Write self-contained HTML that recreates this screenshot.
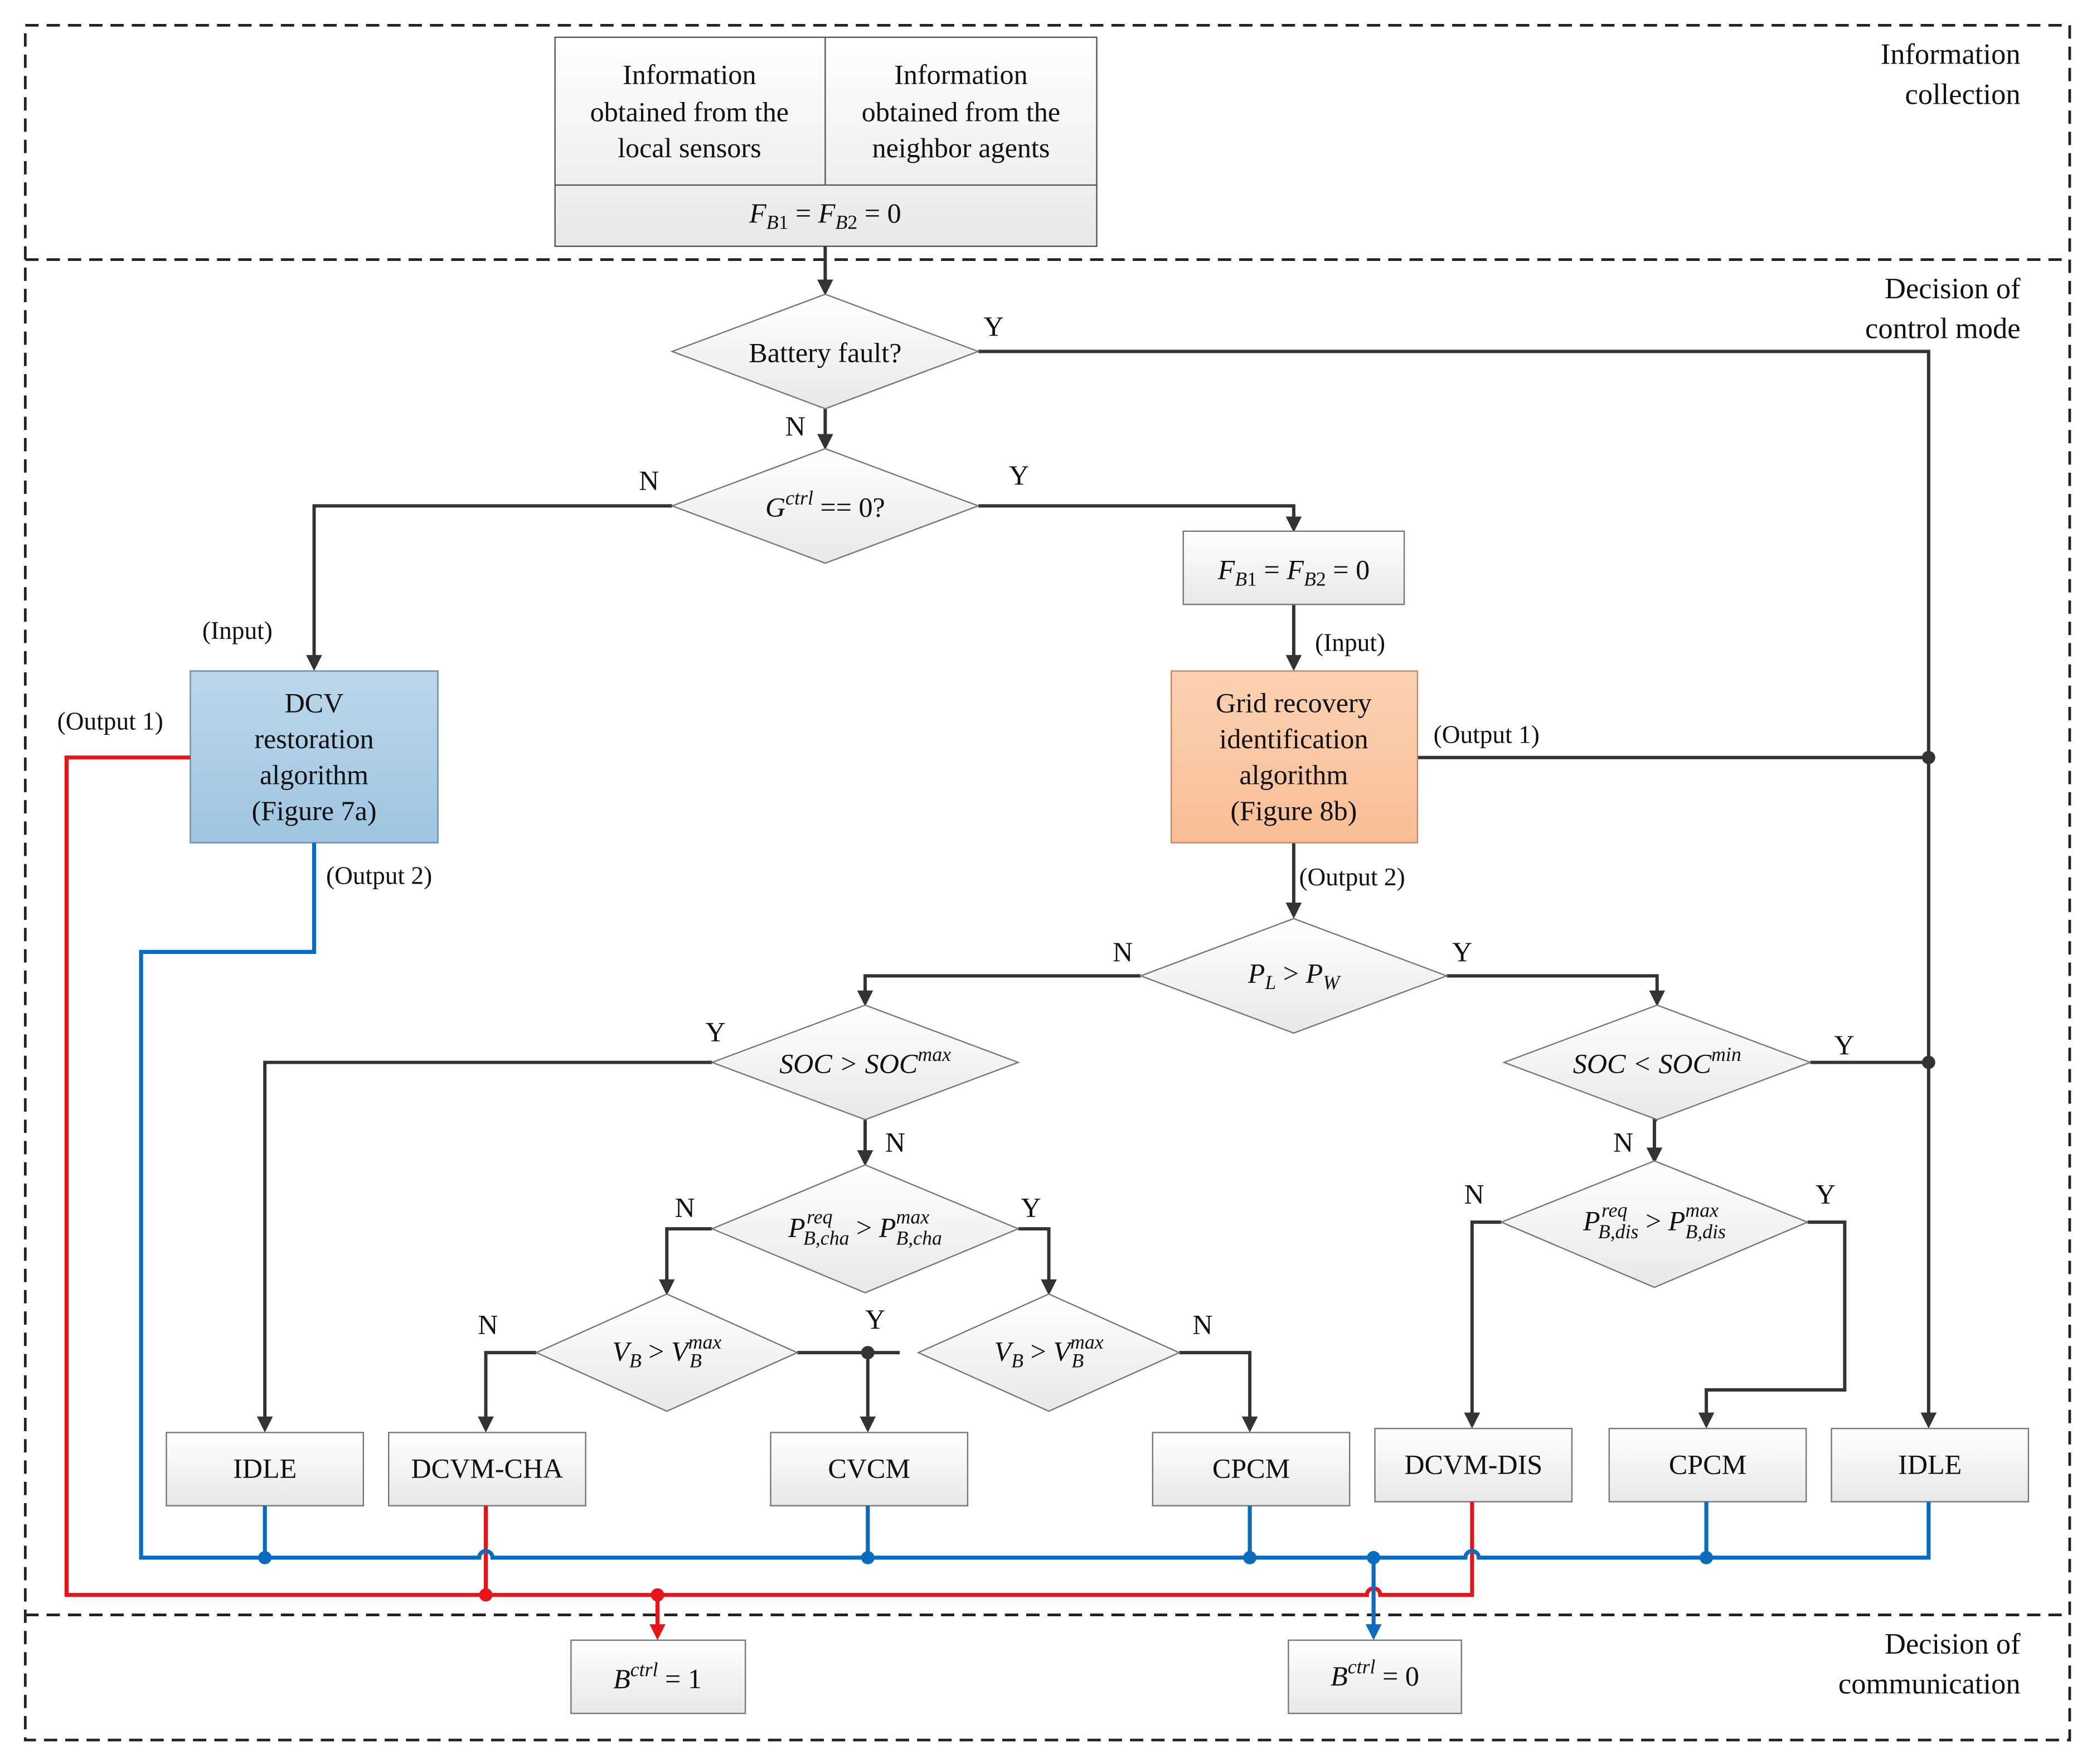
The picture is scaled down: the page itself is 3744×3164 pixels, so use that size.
<!DOCTYPE html>
<html><head><meta charset="utf-8"><style>
html,body{margin:0;padding:0;background:#fff}
svg{display:block}
text{font-family:"Liberation Serif",serif;fill:#111}
.m{font-style:italic}
</style></head><body>
<svg width="3744" height="3164" viewBox="0 0 1568 1325" preserveAspectRatio="none" xmlns="http://www.w3.org/2000/svg">
<defs>
<linearGradient id="g" x1="0" y1="0" x2="0" y2="1"><stop offset="0" stop-color="#ffffff"/><stop offset="1" stop-color="#e8e8e8"/></linearGradient>
<linearGradient id="bl" x1="0" y1="0" x2="0" y2="1"><stop offset="0" stop-color="#bcd7ea"/><stop offset="1" stop-color="#9fc5e1"/></linearGradient>
<linearGradient id="or" x1="0" y1="0" x2="0" y2="1"><stop offset="0" stop-color="#fbd2b2"/><stop offset="1" stop-color="#f9be96"/></linearGradient>
<marker id="ak" markerWidth="10" markerHeight="10" refX="5" refY="8" orient="auto" markerUnits="userSpaceOnUse"><path d="M1,0 L9,0 L5,9 z" fill="#333" transform="rotate(0)"/></marker>
</defs>
<g fill="none" stroke="#222" stroke-width="2" stroke-dasharray="10,6">
<rect x="19" y="19" width="1536" height="1288"/>
<line x1="19" y1="195" x2="1555" y2="195"/>
<line x1="19" y1="1213" x2="1555" y2="1213"/>
</g>
<text x="1518" y="48" font-size="22" text-anchor="end">Information</text>
<text x="1518" y="78" font-size="22" text-anchor="end">collection</text>
<text x="1518" y="224" font-size="22" text-anchor="end">Decision of</text>
<text x="1518" y="254" font-size="22" text-anchor="end">control mode</text>
<text x="1518" y="1242" font-size="22" text-anchor="end">Decision of</text>
<text x="1518" y="1272" font-size="22" text-anchor="end">communication</text>

<!-- top box -->
<g stroke="#555" stroke-width="1" fill="url(#g)">
<rect x="417" y="28" width="407" height="157"/>
</g>
<line x1="620" y1="28" x2="620" y2="139" stroke="#555"/>
<line x1="417" y1="139" x2="824" y2="139" stroke="#555"/>
<g font-size="21" text-anchor="middle">
<text x="518" y="63">Information</text><text x="518" y="91">obtained from the</text><text x="518" y="118">local sensors</text>
<text x="722" y="63">Information</text><text x="722" y="91">obtained from the</text><text x="722" y="118">neighbor agents</text>
<text x="620" y="167" font-size="21"><tspan class="m">F</tspan><tspan class="m" font-size="15" dy="5">B</tspan><tspan font-size="15">1</tspan><tspan dy="-5"> = </tspan><tspan class="m">F</tspan><tspan class="m" font-size="15" dy="5">B</tspan><tspan font-size="15">2</tspan><tspan dy="-5"> = 0</tspan></text>
</g>

<!-- connectors black -->
<g fill="none" stroke="#333" stroke-width="2.5">
<path d="M620,185 V214"/>
<path d="M735,264 H1449 V1066"/>
<path d="M620,307 V330"/>
<path d="M505,380 H236 V496"/>
<path d="M735,380 H972 V392"/>
<path d="M972,454 V496"/>
<path d="M1065,569 H1449"/>
<path d="M972,633 V682"/>
<path d="M857,733 H650 V748"/>
<path d="M1087,733 H1245 V748"/>
<path d="M535,798 H199 V1068"/>
<path d="M1360,798 H1449"/>
<path d="M650,841 V868"/>
<path d="M1245,841 H1243 V866"/>
<path d="M535,923 H501 V965"/>
<path d="M765,923 H788 V965"/>
<path d="M403,1016 H365 V1068"/>
<path d="M599,1016 H676 M652,1016 V1068"/>
<path d="M886,1016 H939 V1068"/>
<path d="M1128,918 H1106 V1065"/>
<path d="M1358,918 H1386 V1044 H1282 V1065"/>
</g>
<g fill="#333">
<path d="M614,210 L626,210 L620,222 z"/>
<path d="M614,326 L626,326 L620,338 z"/>
<path d="M230,492 L242,492 L236,504 z"/>
<path d="M966,388 L978,388 L972,400 z"/>
<path d="M966,492 L978,492 L972,504 z"/>
<path d="M966,678 L978,678 L972,690 z"/>
<path d="M644,744 L656,744 L650,756 z"/>
<path d="M1239,744 L1251,744 L1245,756 z"/>
<path d="M193,1064 L205,1064 L199,1076 z"/>
<path d="M644,864 L656,864 L650,876 z"/>
<path d="M1237,862 L1249,862 L1243,874 z"/>
<path d="M495,961 L507,961 L501,973 z"/>
<path d="M782,961 L794,961 L788,973 z"/>
<path d="M359,1064 L371,1064 L365,1076 z"/>
<path d="M646,1064 L658,1064 L652,1076 z"/>
<path d="M933,1064 L945,1064 L939,1076 z"/>
<path d="M1100,1061 L1112,1061 L1106,1073 z"/>
<path d="M1276,1061 L1288,1061 L1282,1073 z"/>
<path d="M1443,1061 L1455,1061 L1449,1073 z"/>
<circle cx="1449" cy="569" r="5"/><circle cx="1449" cy="798" r="5"/><circle cx="652" cy="1016" r="5"/>
</g>

<!-- diamonds -->
<g stroke="#777" stroke-width="1" fill="url(#g)">
<path d="M620,221 L735,264 L620,307 L505,264 z"/>
<path d="M620,337 L735,380 L620,423 L505,380 z"/>
<path d="M972,690 L1087,733 L972,776 L857,733 z"/>
<path d="M650,755 L765,798 L650,841 L535,798 z"/>
<path d="M1245,755 L1360,798 L1245,841 L1130,798 z"/>
<path d="M650,875 L765,923 L650,971 L535,923 z"/>
<path d="M1243,872 L1358,918 L1243,967 L1128,918 z"/>
<path d="M501,972 L599,1016 L501,1060 L403,1016 z"/>
<path d="M788,972 L886,1016 L788,1060 L690,1016 z"/>
</g>
<!-- boxes -->
<g stroke="#777" stroke-width="1" fill="url(#g)">
<rect x="889" y="399" width="166" height="55"/>
<rect x="125" y="1076" width="148" height="55"/>
<rect x="292" y="1076" width="148" height="55"/>
<rect x="579" y="1076" width="148" height="55"/>
<rect x="866" y="1076" width="148" height="55"/>
<rect x="1033" y="1073" width="148" height="55"/>
<rect x="1209" y="1073" width="148" height="55"/>
<rect x="1376" y="1073" width="148" height="55"/>
<rect x="429" y="1232" width="131" height="55"/>
<rect x="968" y="1232" width="130" height="55"/>
</g>
<rect x="143" y="504" width="186" height="129" fill="url(#bl)" stroke="#6a8ca8"/>
<rect x="880" y="504" width="185" height="129" fill="url(#or)" stroke="#c08a68"/>

<!-- colored lines -->
<g fill="none" stroke-width="3">
<path stroke="#e8141b" d="M143,569 H50 V1198 H1027 a5,5 0 0 1 10,0 H1106 V1128"/>
<path stroke="#e8141b" d="M365,1131 V1198 M494,1198 V1222"/>
<path stroke="#0a6bbf" d="M236,633 V715 H106 V1170 H360 a5,5 0 0 1 10,0 H1101 a5,5 0 0 1 10,0 H1449 V1128"/>
<path stroke="#0a6bbf" d="M199,1131 V1170 M652,1131 V1170 M939,1131 V1170 M1282,1128 V1170 M1032,1170 V1222"/>
</g>
<g>
<circle cx="365" cy="1198" r="5" fill="#e8141b"/><circle cx="494" cy="1198" r="5" fill="#e8141b"/>
<path d="M488,1220 L500,1220 L494,1232 z" fill="#e8141b"/>
<circle cx="199" cy="1170" r="5" fill="#0a6bbf"/><circle cx="652" cy="1170" r="5" fill="#0a6bbf"/>
<circle cx="939" cy="1170" r="5" fill="#0a6bbf"/><circle cx="1032" cy="1170" r="5" fill="#0a6bbf"/>
<circle cx="1282" cy="1170" r="5" fill="#0a6bbf"/>
<path d="M1026,1220 L1038,1220 L1032,1232 z" fill="#0a6bbf"/>
</g>

<!-- text -->
<g font-size="21" text-anchor="middle">
<text x="620" y="272">Battery fault?</text>
<text x="620" y="388"><tspan class="m">G</tspan><tspan class="m" font-size="15" dy="-9">ctrl</tspan><tspan dy="9"> == 0?</tspan></text>
<text x="972" y="435"><tspan class="m">F</tspan><tspan class="m" font-size="15" dy="5">B</tspan><tspan font-size="15">1</tspan><tspan dy="-5"> = </tspan><tspan class="m">F</tspan><tspan class="m" font-size="15" dy="5">B</tspan><tspan font-size="15">2</tspan><tspan dy="-5"> = 0</tspan></text>
<text x="236" y="535">DCV</text><text x="236" y="562">restoration</text><text x="236" y="589">algorithm</text><text x="236" y="616">(Figure 7a)</text>
<text x="972" y="535">Grid recovery</text><text x="972" y="562">identification</text><text x="972" y="589">algorithm</text><text x="972" y="616">(Figure 8b)</text>
<text x="972" y="738"><tspan class="m">P</tspan><tspan class="m" font-size="15" dy="5">L</tspan><tspan dy="-5"> &gt; </tspan><tspan class="m">P</tspan><tspan class="m" font-size="15" dy="5">W</tspan></text>
<text x="650" y="806" class="m">SOC &gt; SOC<tspan font-size="15" dy="-9">max</tspan></text>
<text x="1245" y="806" class="m">SOC &lt; SOC<tspan font-size="15" dy="-9">min</tspan></text>
<text x="650" y="929"><tspan class="m">P</tspan><tspan class="m" font-size="15" dx="1" dy="-10">req</tspan><tspan class="m" font-size="15" dx="-22" dy="16">B,cha</tspan><tspan dy="-6"> &gt; </tspan><tspan class="m">P</tspan><tspan class="m" font-size="15" dy="-10">max</tspan><tspan class="m" font-size="15" dx="-25" dy="16">B,cha</tspan></text>
<text x="1243" y="924"><tspan class="m">P</tspan><tspan class="m" font-size="15" dx="1" dy="-10">req</tspan><tspan class="m" font-size="15" dx="-22" dy="16">B,dis</tspan><tspan dy="-6"> &gt; </tspan><tspan class="m">P</tspan><tspan class="m" font-size="15" dy="-10">max</tspan><tspan class="m" font-size="15" dx="-25" dy="16">B,dis</tspan></text>
<text x="501" y="1022"><tspan class="m">V</tspan><tspan class="m" font-size="15" dy="5">B</tspan><tspan dy="-5"> &gt; </tspan><tspan class="m">V</tspan><tspan class="m" font-size="15" dy="-9">max</tspan><tspan class="m" font-size="15" dx="-24" dy="14">B</tspan></text>
<text x="788" y="1022"><tspan class="m">V</tspan><tspan class="m" font-size="15" dy="5">B</tspan><tspan dy="-5"> &gt; </tspan><tspan class="m">V</tspan><tspan class="m" font-size="15" dy="-9">max</tspan><tspan class="m" font-size="15" dx="-24" dy="14">B</tspan></text>
<text x="199" y="1110">IDLE</text>
<text x="366" y="1110">DCVM-CHA</text>
<text x="653" y="1110">CVCM</text>
<text x="940" y="1110">CPCM</text>
<text x="1107" y="1107">DCVM-DIS</text>
<text x="1283" y="1107">CPCM</text>
<text x="1450" y="1107">IDLE</text>
<text x="494" y="1268"><tspan class="m">B</tspan><tspan class="m" font-size="15" dy="-9">ctrl</tspan><tspan dy="9"> = 1</tspan></text>
<text x="1033" y="1266"><tspan class="m">B</tspan><tspan class="m" font-size="15" dy="-9">ctrl</tspan><tspan dy="9"> = 0</tspan></text>
</g>
<g font-size="21">
<text x="739" y="252">Y</text>
<text x="590" y="327">N</text>
<text x="480" y="368">N</text>
<text x="758" y="364">Y</text>
<text x="836" y="722">N</text>
<text x="1091" y="722">Y</text>
<text x="530" y="782">Y</text>
<text x="1378" y="792">Y</text>
<text x="665" y="865">N</text>
<text x="1212" y="865">N</text>
<text x="507" y="914">N</text>
<text x="767" y="914">Y</text>
<text x="1100" y="904">N</text>
<text x="1364" y="904">Y</text>
<text x="359" y="1002">N</text>
<text x="650" y="998">Y</text>
<text x="896" y="1002">N</text>
</g>
<g font-size="19">
<text x="152" y="480">(Input)</text>
<text x="988" y="489">(Input)</text>
<text x="43" y="548">(Output 1)</text>
<text x="1077" y="558">(Output 1)</text>
<text x="245" y="664">(Output 2)</text>
<text x="976" y="665">(Output 2)</text>
</g>
</svg>
</body></html>
